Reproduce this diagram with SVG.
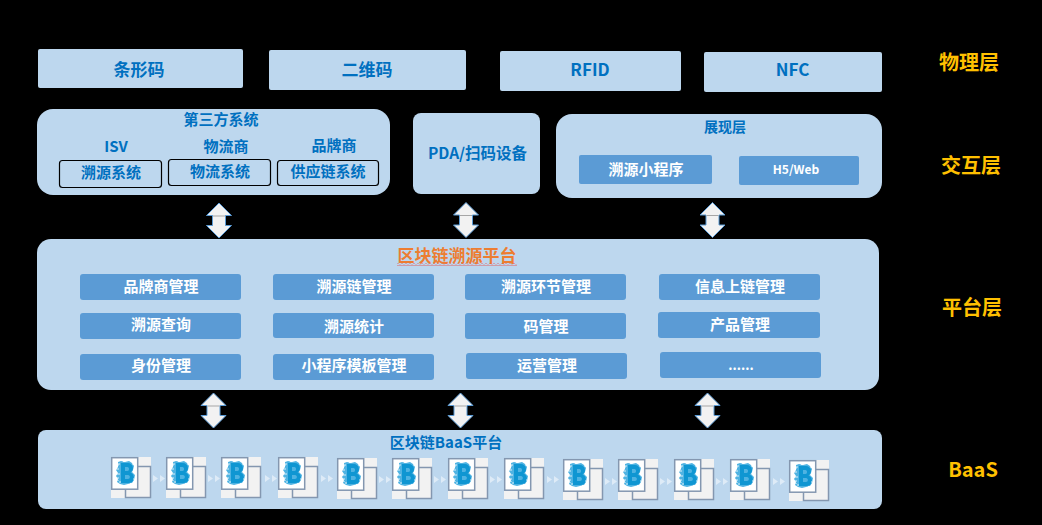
<svg xmlns="http://www.w3.org/2000/svg" width="1042" height="525" viewBox="0 0 1042 525">
<defs>
<style>
text{font-family:"Noto Sans CJK SC","Liberation Sans",sans-serif;font-weight:700;text-anchor:middle}
.p{fill:#BDD7EE}
.m{fill:#5B9BD5}
.t{fill:#0070C0}
.w{fill:#fff;font-size:15px}
.l{fill:#FFC000;font-size:20px}
.b{fill:none;stroke:#000;stroke-width:1.2}
</style>
<pattern id="wv" width="4" height="3" patternUnits="userSpaceOnUse"><path d="M0 .5l2 2 2-2" fill="none" stroke="#E8413C" stroke-width=".8"/></pattern>
<g id="arrow">
<path d="M0-17.500 12.500-5H6.500V5H12.500L0 17.500-12.500 5H-6.500V-5H-12.500Z" fill="#F2F2F2" stroke="#5B9BD5" stroke-width="1"/>
<path d="M-6-4.500H6" stroke="#A6A6A6" stroke-width="1"/>
</g>
<g id="blk">
<rect x="27" y="0" width="13" height="9" fill="#F2F2F2"/>
<rect x="0" y="33" width="14" height="8" fill="#F2F2F2"/>
<rect x="14.500" y="9.500" width="25" height="31" fill="#F2F2F2" stroke="#8497B0" stroke-width="1.500"/>
<rect x="0.700" y="0.700" width="26" height="31.500" fill="#fff" stroke="#8497B0" stroke-width="1.500"/>
<path d="M7 5 10 4 14 5 18 4 21 6 23 9 22 13 21 15 24 18 23 23 21 26 17 27 13 28 9 27 6 25 7 22 5 19 7 16 5 13 7 10Z" fill="#4FB3E2"/>
<path d="M10 6H17C22 6 24 13 19.500 15.500C24.500 17 24 26 18 26H10ZM14 10V14H16.500C18.500 14 18.500 10 16.500 10ZM14 18V22H17C19.500 22 19.500 18 17 18Z" fill="#0F96D2" fill-rule="evenodd"/>
<path d="M6 8h2M5 12h3M6 17h3M6 21h2M8 25h2M12 4.500h2M21 7h2M22 22h1M19 26.500h2M8 6v2M7 23v1" stroke="#fff" stroke-width=".8"/>
</g>
<path id="chev" d="M0 0l5 3.500-5 3.500zM7 0l5 3.500-5 3.500z" fill="#DEEBF7"/>
</defs>
<rect width="1042" height="525" fill="#000"/>

<g id="physical-layer">
<g id="n-barcode"><rect class="p" x="38" y="49" width="205" height="39" rx="2"/><text class="t" x="139" y="76" font-size="17">条形码</text></g>
<g id="n-qr"><rect class="p" x="269" y="50" width="197" height="40" rx="2"/><text class="t" x="367" y="76" font-size="17">二维码</text></g>
<g id="n-rfid"><rect class="p" x="500" y="51" width="181" height="40" rx="2"/><text class="t" x="590" y="76" font-size="17">RFID</text></g>
<g id="n-nfc"><rect class="p" x="704" y="52" width="178" height="40" rx="2"/><text class="t" x="792.500" y="76" font-size="17">NFC</text></g>
</g>

<g id="n-third-party">
<rect class="p" x="37" y="109" width="353" height="86" rx="16"/>
<text class="t" x="221" y="125" font-size="15">第三方系统</text>
<text class="t" x="116" y="152" font-size="15">ISV</text>
<text class="t" x="226" y="152" font-size="15">物流商</text>
<text class="t" x="334" y="151" font-size="15">品牌商</text>
<rect class="b" x="59.500" y="160.500" width="102" height="27" rx="3"/>
<text class="t" x="111" y="178" font-size="15">溯源系统</text>
<rect class="b" x="168.500" y="159.500" width="102" height="26" rx="3"/>
<text class="t" x="220" y="177" font-size="15">物流系统</text>
<rect class="b" x="277.500" y="160.500" width="101" height="25" rx="3"/>
<text class="t" x="328" y="177" font-size="15">供应链系统</text>
</g>
<g id="n-pda"><rect class="p" x="413" y="113" width="127" height="81" rx="8"/><text class="t" x="477.500" y="159" font-size="15.500">PDA/扫码设备</text></g>
<g id="n-display">
<rect class="p" x="556" y="114" width="326" height="84" rx="16"/>
<text class="t" x="725" y="132" font-size="14">展现层</text>
<rect class="m" x="579" y="155" width="133" height="29" rx="2"/><text class="w" x="646" y="175">溯源小程序</text>
<rect class="m" x="739" y="156" width="120" height="29" rx="2"/><text class="w" x="796" y="174" style="font-size:12px">H5/Web</text>
</g>

<g id="connectors">
<use href="#arrow" transform="translate(219 220.500)"/>
<use href="#arrow" transform="translate(466 220)"/>
<use href="#arrow" transform="translate(712.500 220)"/>
<use href="#arrow" transform="translate(213.500 410.500)"/>
<use href="#arrow" transform="translate(460.500 410.500)"/>
<use href="#arrow" transform="translate(707.500 410.500)"/>
</g>

<g id="n-platform">
<rect class="p" x="37" y="239" width="842" height="151" rx="14"/>
<text x="457" y="262" font-size="17" fill="#ED7D31">区块链溯源平台</text>
<rect x="397" y="263" width="120" height="3" fill="url(#wv)"/>
<g id="n-m1"><rect class="m" x="80" y="274" width="161" height="26" rx="3"/><text class="w" x="161" y="292">品牌商管理</text></g>
<g id="n-m2"><rect class="m" x="273" y="274" width="161" height="26" rx="3"/><text class="w" x="354" y="292">溯源链管理</text></g>
<g id="n-m3"><rect class="m" x="465" y="274" width="161" height="26" rx="3"/><text class="w" x="546" y="292">溯源环节管理</text></g>
<g id="n-m4"><rect class="m" x="659" y="274" width="161" height="26" rx="3"/><text class="w" x="740" y="292">信息上链管理</text></g>
<g id="n-m5"><rect class="m" x="80" y="313" width="161" height="26" rx="3"/><text class="w" x="161" y="330">溯源查询</text></g>
<g id="n-m6"><rect class="m" x="273" y="313" width="161" height="25" rx="3"/><text class="w" x="354" y="332">溯源统计</text></g>
<g id="n-m7"><rect class="m" x="465" y="313" width="161" height="26" rx="3"/><text class="w" x="546" y="332">码管理</text></g>
<g id="n-m8"><rect class="m" x="658" y="312" width="162" height="26" rx="3"/><text class="w" x="740" y="330">产品管理</text></g>
<g id="n-m9"><rect class="m" x="80" y="354" width="161" height="26" rx="3"/><text class="w" x="161" y="371">身份管理</text></g>
<g id="n-m10"><rect class="m" x="273" y="354" width="161" height="26" rx="3"/><text class="w" x="354" y="371">小程序模板管理</text></g>
<g id="n-m11"><rect class="m" x="466" y="353" width="161" height="26" rx="3"/><text class="w" x="547" y="371">运营管理</text></g>
<g id="n-m12"><rect class="m" x="660" y="352" width="161" height="26" rx="3"/><text class="w" x="741" y="370" style="font-size:13px">......</text></g>
</g>

<g id="n-baas">
<rect class="p" x="38" y="430" width="844" height="79" rx="8"/>
<text class="t" x="446" y="448" font-size="15">区块链BaaS平台</text>
<use href="#blk" x="111" y="457"/><use href="#chev" x="153" y="475"/>
<use href="#blk" x="166" y="457"/><use href="#chev" x="208" y="475"/>
<use href="#blk" x="221" y="457"/><use href="#chev" x="265" y="475"/>
<use href="#blk" x="278" y="457"/><use href="#chev" x="321" y="475"/>
<use href="#blk" x="337" y="458"/><use href="#chev" x="379" y="476"/>
<use href="#blk" x="392" y="458"/><use href="#chev" x="434" y="476"/>
<use href="#blk" x="448" y="458"/><use href="#chev" x="490" y="476"/>
<use href="#blk" x="504" y="458"/><use href="#chev" x="547" y="476"/>
<use href="#blk" x="563" y="459"/><use href="#chev" x="605" y="478"/>
<use href="#blk" x="618" y="459"/><use href="#chev" x="660" y="478"/>
<use href="#blk" x="674" y="459"/><use href="#chev" x="716" y="478"/>
<use href="#blk" x="730" y="459"/><use href="#chev" x="773" y="478"/>
<use href="#blk" x="789" y="460"/>
</g>

<g id="layer-labels">
<text class="l" x="969" y="70">物理层</text>
<text class="l" x="971" y="173">交互层</text>
<text class="l" x="972" y="315">平台层</text>
<text class="l" x="973" y="477">BaaS</text>
</g>
</svg>
